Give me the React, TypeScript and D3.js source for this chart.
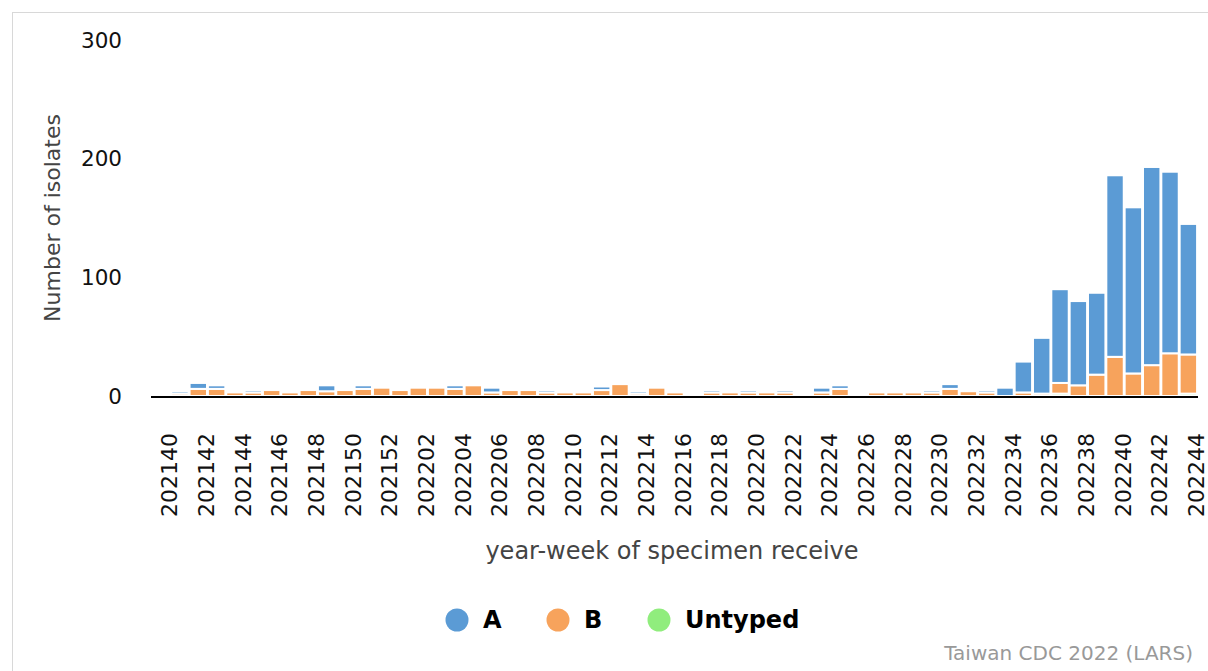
import React, { useEffect, useRef } from "react";
import * as d3 from "d3";

// year-week categories
const weeks = [
  "202140", "202141", "202142", "202143", "202144", "202145", "202146", "202147",
  "202148", "202149", "202150", "202151", "202152", "202201", "202202", "202203",
  "202204", "202205", "202206", "202207", "202208", "202209", "202210", "202211",
  "202212", "202213", "202214", "202215", "202216", "202217", "202218", "202219",
  "202220", "202221", "202222", "202223", "202224", "202225", "202226", "202227",
  "202228", "202229", "202230", "202231", "202232", "202233", "202234", "202235",
  "202236", "202237", "202238", "202239", "202240", "202241", "202242", "202243",
  "202244",
];

// isolates per week
const typeA = [
  0, 2, 5, 3, 0, 2, 0, 0, 0, 5, 0, 3, 0, 0, 0, 0, 3, 0, 4, 0, 0, 2, 0, 0, 3, 0, 2, 0, 0,
  0, 2, 0, 2, 0, 2, 0, 4, 3, 0, 0, 0, 0, 2, 4, 0, 2, 7, 26, 47, 79, 71, 69, 153, 140, 167,
  153, 110,
];
const typeB = [
  0, 2, 6, 6, 3, 3, 5, 3, 5, 4, 5, 6, 7, 5, 7, 7, 6, 9, 3, 5, 5, 3, 3, 3, 5, 10, 2, 7, 3,
  0, 3, 3, 3, 3, 3, 0, 3, 6, 0, 3, 3, 3, 3, 6, 4, 3, 0, 3, 2, 9, 9, 18, 33, 19, 26, 36, 33,
];
const untyped = [
  0, 0, 0, 0, 0, 0, 0, 0, 0, 0, 0, 0, 0, 0, 0, 0, 0, 0, 0, 0, 0, 0, 0, 0, 0, 0, 0, 0, 0,
  0, 0, 0, 0, 0, 0, 0, 0, 0, 0, 0, 0, 0, 0, 0, 0, 0, 0, 0, 0, 2, 0, 0, 0, 0, 0, 0, 2,
];

const yTicks = [0, 100, 200, 300];
const seriesNames = ["A", "B", "Untyped"];
const seriesColors = ["#5b9bd5", "#f7a35c", "#90ed7d"];

const FONT = "'DejaVu Sans', Verdana, sans-serif";

const App = () => {
  const ref = useRef(null);

  useEffect(() => {
    const svg = d3.select(ref.current);
    svg.selectAll("*").remove();

    // outer frame
    svg
      .append("rect")
      .attr("x", 12.5)
      .attr("y", 12.5)
      .attr("width", 1300)
      .attr("height", 700)
      .attr("fill", "#fff")
      .attr("stroke", "#d8d8d8");

    const x = d3.scaleBand().domain(weeks).range([152, 1198]).padding(0.05);
    const y = d3.scaleLinear().domain([0, 300]).range([396, 40]);

    const rows = weeks.map((w, i) => ({
      week: w,
      Untyped: untyped[i],
      B: typeB[i],
      A: typeA[i],
    }));
    // A on top, untyped at the bottom
    const stacked = d3.stack().keys(["Untyped", "B", "A"])(rows);
    const color = d3.scaleOrdinal().domain(seriesNames).range(seriesColors);

    svg
      .append("g")
      .selectAll("g")
      .data(stacked)
      .enter()
      .append("g")
      .attr("fill", (d) => color(d.key))
      .selectAll("rect")
      .data((d) => d)
      .enter()
      .append("rect")
      .attr("x", (d) => x(d.data.week))
      .attr("y", (d) => y(d[1]))
      .attr("width", x.bandwidth())
      .attr("height", (d) => y(d[0]) - y(d[1]))
      .attr("stroke", "#fff")
      .attr("stroke-width", 2);

    // x axis line
    svg
      .append("line")
      .attr("x1", 151)
      .attr("x2", 1198)
      .attr("y1", 397)
      .attr("y2", 397)
      .attr("stroke", "#000")
      .attr("stroke-width", 2);

    // y tick labels
    svg
      .append("g")
      .selectAll("text")
      .data(yTicks)
      .enter()
      .append("text")
      .attr("x", 122)
      .attr("y", (d) => y(d))
      .attr("dy", "0.35em")
      .attr("text-anchor", "end")
      .style("font-family", FONT)
      .style("font-size", "21.5px")
      .attr("fill", "#111")
      .text((d) => d);

    // x tick labels, every second week
    svg
      .append("g")
      .selectAll("text")
      .data(weeks.filter((w, i) => i % 2 === 0))
      .enter()
      .append("text")
      .attr(
        "transform",
        (d) => `translate(${x(d) + x.bandwidth() / 2 + 8}, 433) rotate(-90)`
      )
      .attr("dy", "0.35em")
      .attr("text-anchor", "end")
      .style("font-family", FONT)
      .style("font-size", "22px")
      .attr("fill", "#111")
      .text((d) => d);

    // axis titles
    svg
      .append("text")
      .attr("transform", "translate(52, 218) rotate(-90)")
      .attr("dy", "0.35em")
      .attr("text-anchor", "middle")
      .style("font-family", FONT)
      .style("font-size", "22px")
      .attr("fill", "#444")
      .text("Number of isolates");

    svg
      .append("text")
      .attr("x", 672)
      .attr("y", 551)
      .attr("dy", "0.35em")
      .attr("text-anchor", "middle")
      .style("font-family", FONT)
      .style("font-size", "24px")
      .attr("fill", "#444")
      .text("year-week of specimen receive");

    // legend
    const legendX = [457, 558, 659];
    const legend = svg
      .append("g")
      .selectAll("g")
      .data(seriesNames)
      .enter()
      .append("g")
      .attr("transform", (d, i) => `translate(${legendX[i]}, 620)`);
    legend
      .append("circle")
      .attr("r", 11.5)
      .attr("fill", (d) => color(d));
    legend
      .append("text")
      .attr("x", 26)
      .attr("dy", "0.35em")
      .style("font-family", FONT)
      .style("font-size", "24px")
      .style("font-weight", "bold")
      .attr("fill", "#000")
      .text((d) => d);

    // credits
    svg
      .append("text")
      .attr("x", 1193)
      .attr("y", 653)
      .attr("dy", "0.35em")
      .attr("text-anchor", "end")
      .style("font-family", FONT)
      .style("font-size", "20px")
      .attr("fill", "#999")
      .text("Taiwan CDC 2022 (LARS)");
  }, []);

  return (
    <svg
      ref={ref}
      width={1208}
      height={671}
      style={{ position: "absolute", left: 0, top: 0 }}
    />
  );
};

export default App;
